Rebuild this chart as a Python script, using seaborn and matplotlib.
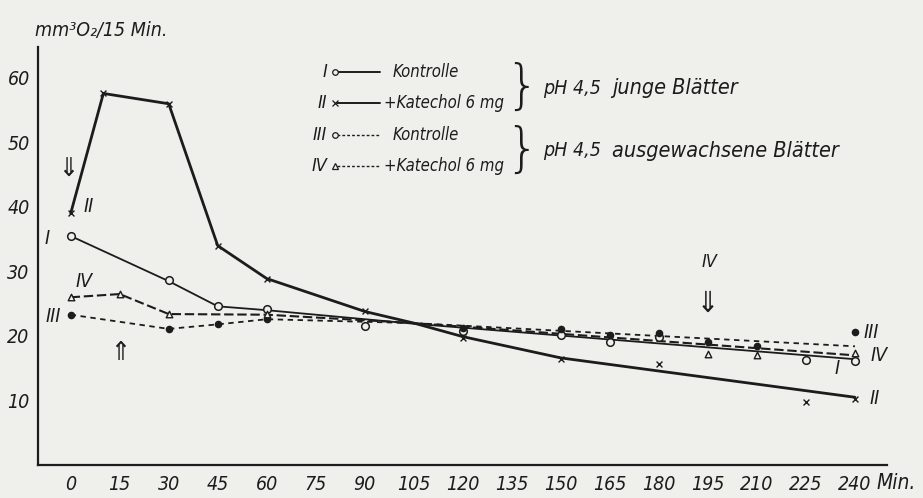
import matplotlib
matplotlib.use("Agg")
import matplotlib.pyplot as plt
import seaborn as sns
import numpy as np
from matplotlib.lines import Line2D

# ---------------- data ----------------
# Series I  (Kontrolle, junge Blätter) - open circles, solid line
I_line_t = [0, 30, 45, 60, 105, 240]
I_line_v = [35.5, 28.5, 24.6, 24.0, 21.9, 16.4]
I_pts_t = [0, 30, 45, 60, 90, 120, 150, 165, 180, 225, 240]
I_pts_v = [35.5, 28.7, 24.6, 24.2, 21.5, 20.7, 20.1, 19.0, 19.8, 16.3, 16.2]

# Series II (+Katechol 6 mg, junge Blätter) - crosses, solid line
II_line_t = [0, 10, 30, 45, 60, 90, 105, 120, 150, 240]
II_line_v = [39.0, 57.6, 56.0, 34.0, 28.9, 23.8, 22.0, 19.9, 16.6, 10.5]
II_pts_t = [0, 10, 30, 45, 60, 90, 120, 150, 180, 225, 240]
II_pts_v = [39.0, 57.6, 56.0, 33.9, 28.9, 23.8, 19.7, 16.5, 15.7, 9.7, 10.3]

# Series III (Kontrolle, ausgewachsene Blätter) - filled dots, dash-dot line
III_line_t = [0, 30, 45, 60, 105, 240]
III_line_v = [23.3, 21.1, 21.8, 22.6, 22.0, 18.4]
III_pts_t = [0, 30, 45, 60, 120, 150, 165, 180, 195, 210, 240]
III_pts_v = [23.3, 21.1, 21.8, 22.6, 21.3, 21.1, 20.2, 20.5, 19.1, 18.4, 20.6]

# Series IV (+Katechol 6 mg, ausgewachsene Blätter) - triangles, dashed line
IV_line_t = [0, 15, 30, 60, 105, 240]
IV_line_v = [26.0, 26.5, 23.4, 23.3, 22.0, 17.0]
IV_pts_t = [0, 15, 30, 60, 195, 210, 240]
IV_pts_v = [26.0, 26.5, 23.4, 23.4, 17.2, 17.0, 17.4]

x_ticks = list(range(0, 241, 15))
y_ticks = [10, 20, 30, 40, 50, 60]

# ---------------- style ----------------
sns.set_theme(style="white")
INK = "#1c1c1c"
BG = "#efefec"
FONT = ["DejaVu Sans", "Liberation Sans"]
plt.rcParams["font.family"] = FONT
plt.rcParams["font.stretch"] = "condensed"
plt.rcParams["text.color"] = INK
ST = "condensed"

W, H = 923, 498
fig = plt.figure(figsize=(W / 100, H / 100), dpi=100, facecolor=BG)
ax = fig.add_axes([38 / W, (H - 465) / H, (887 - 38) / W, 418 / H])
ax.set_facecolor(BG)
ax.set_xlim(-10, 249.8)
ax.set_ylim(0, 64.8)

# lines
sns.lineplot(x=I_line_t, y=I_line_v, ax=ax, color=INK, lw=1.3, linestyle="-")
sns.lineplot(x=II_line_t, y=II_line_v, ax=ax, color=INK, lw=2.0, linestyle="-")
sns.lineplot(x=III_line_t, y=III_line_v, ax=ax, color=INK, lw=1.3,
             linestyle=(0, (3, 2.5)))
sns.lineplot(x=IV_line_t, y=IV_line_v, ax=ax, color=INK, lw=1.5,
             linestyle=(0, (4.5, 1.8)))

# markers
ax.scatter(I_pts_t, I_pts_v, s=30, facecolors=BG, edgecolors=INK, linewidths=1.1, zorder=5)
ax.scatter(II_pts_t, II_pts_v, s=18, marker="x", color=INK, linewidths=1.0, zorder=5)
ax.scatter(III_pts_t, III_pts_v, s=20, color=INK, zorder=5)
ax.scatter(IV_pts_t, IV_pts_v, s=22, marker="^", facecolors=BG, edgecolors=INK,
           linewidths=1.0, zorder=5)

# axes styling
for s in ["top", "right"]:
    ax.spines[s].set_visible(False)
for s in ["left", "bottom"]:
    ax.spines[s].set_color(INK)
    ax.spines[s].set_linewidth(1.6)
ax.set_xticks(x_ticks)
ax.set_xticklabels([str(t) for t in x_ticks])
ax.set_yticks(y_ticks)
ax.set_yticklabels([str(v) for v in y_ticks])
ax.tick_params(axis="both", direction="in", length=8.5, width=1.4, color=INK,
               labelsize=14, labelcolor=INK)
ax.tick_params(axis="x", pad=7)
ax.tick_params(axis="y", pad=6)
for lab in ax.get_xticklabels() + ax.get_yticklabels():
    lab.set_fontstyle("italic")
    lab.set_fontstretch(ST)

# axis titles
fig.text(35 / W, 1 - 30 / H, "mm³O₂/15 Min.", fontsize=14, style="italic",
         ha="left", va="center", stretch=ST)
fig.text(876 / W, 1 - 483 / H, "Min.", fontsize=15, style="italic",
         ha="left", va="center", stretch=ST)

# curve labels
def lab(t, v, s, fs=14):
    ax.text(t, v, s, fontsize=fs, style="italic", ha="center", va="center", stretch=ST)

lab(-7.3, 35.1, "I")
lab(5.5, 40.1, "II")
lab(4.0, 28.4, "IV")
lab(-5.2, 23.0, "III")
lab(245.0, 20.5, "III")
lab(247.5, 17.0, "IV")
lab(234.6, 15.0, "I")
lab(246.0, 10.3, "II")
lab(195.5, 31.4, "IV", fs=13)

# arrows
ax.text(-0.9, 45.8, "⇓", fontsize=19, ha="center", va="center", color=INK)
ax.text(15.2, 17.3, "⇑", fontsize=19, ha="center", va="center", color=INK)
ax.text(195.0, 25.0, "⇓", fontsize=21, ha="center", va="center", color=INK)

# ---------------- legend (drawn manually) ----------------
rows = [
    ("I", "Kontrolle", "o", "-", BG),
    ("II", "+Katechol 6 mg", "x", "-", INK),
    ("III", "Kontrolle", "o", (0, (2, 1.5)), BG),
    ("IV", "+Katechol 6 mg", "^", (0, (2, 1.5)), BG),
]
row_y = [72, 103, 135, 166]
for (num, txt, mk, ls, fc), yy in zip(rows, row_y):
    fy = 1 - yy / H
    fig.text(327 / W, fy, num, fontsize=13, style="italic", ha="right", va="center", stretch=ST)
    fig.add_artist(Line2D([337 / W, 380 / W], [fy, fy], color=INK, lw=1.4 if ls == "-" else 1.0,
                          linestyle=ls))
    fig.add_artist(Line2D([335 / W], [fy], marker=mk, markersize=4, color=INK,
                          markerfacecolor=fc, markeredgewidth=0.9, linestyle="none"))
    fig.text(384 / W if txt.startswith("+") else 393 / W, fy, txt, fontsize=12,
             style="italic", ha="left", va="center", stretch=ST)

for yc, txt in [(88, "junge Blätter"), (151, "ausgewachsene Blätter")]:
    fy = 1 - yc / H
    fig.text(522 / W, fy, "}", fontsize=38, ha="center", va="center",
             color=INK, fontweight=200, stretch="normal")
    fig.text(543 / W, fy, "pH 4,5", fontsize=14, style="italic", ha="left", va="center", stretch=ST)
    fig.text(612 / W, fy, txt, fontsize=15.5, style="italic", ha="left", va="center", stretch=ST)

fig.savefig("out.png", dpi=100, facecolor=BG)
